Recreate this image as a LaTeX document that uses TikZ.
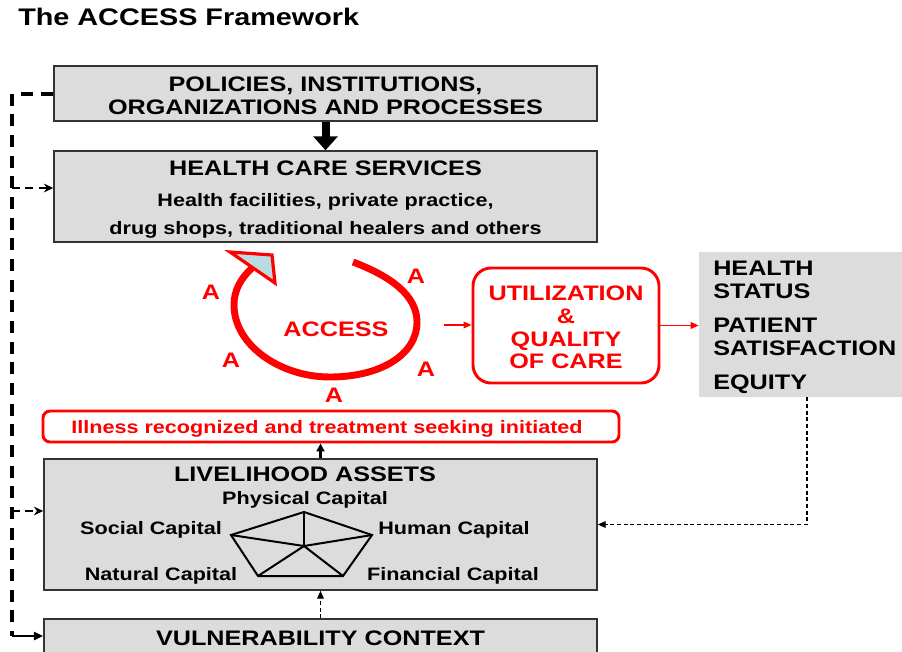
\documentclass[tikz,border=0pt]{standalone}
\usepackage{fontspec}
\setmainfont{Liberation Sans}[FakeStretch=1.2]
\usepackage{xcolor}
\usetikzlibrary{arrows.meta}
\definecolor{boxgray}{RGB}{220,220,220}
\definecolor{accred}{RGB}{255,0,0}
\definecolor{headcyan}{RGB}{184,220,226}
\newcommand{\bigfont}{\fontsize{15.75}{17}\selectfont\bfseries}
\newcommand{\medfont}{\fontsize{13.5}{16}\selectfont\bfseries}

\begin{document}
\begin{tikzpicture}[x=0.75pt, y=-0.75pt,
  graybox/.style={draw=black!80, line width=1.1pt, fill=boxgray, inner sep=0pt},
  redbox/.style={draw=accred, line width=2.2pt, inner sep=0pt},
  boxtext/.style={align=center, inner sep=0pt, yshift=-1.6pt},
  alabel/.style={text=accred, font=\bigfont, inner sep=1pt},
  caplabel/.style={font=\medfont, inner sep=1pt, yshift=-1.8pt},
  redarrow/.style={accred, line width=1.1pt, -{Triangle[length=6pt,width=5pt]}},
  spinedash/.style={line width=3pt, dash pattern=on 9pt off 6.5pt},
  branchdash/.style={line width=2pt, dash pattern=on 6pt off 4pt, -{Stealth[length=7pt,width=6.5pt]}},
  fbline/.style={line width=0.9pt, dash pattern=on 3pt off 2pt, -{Triangle[length=6pt,width=5pt]}}]

\useasboundingbox (0,0) rectangle (902,651);
\clip (0,0) rectangle (902,651);

% ── Titel ────────────────────────────────────────────────────────────
\node[anchor=west, font=\fontsize{18}{20}\selectfont\bfseries, inner sep=0pt]
  (title) at (18,17) {The ACCESS Framework};

% ── Kästen links ─────────────────────────────────────────────────────
\node[graybox, minimum width=407.25pt, minimum height=41.25pt] (pol) at (325.5,93.5) {};
\node[boxtext, font=\bigfont] (polt) at (pol) {POLICIES, INSTITUTIONS,\\ORGANIZATIONS AND PROCESSES};

\node[graybox, minimum width=407.25pt, minimum height=68.25pt] (hcs) at (325.5,196.5) {};
\node[boxtext, font=\medfont, yshift=-0.8pt] (hcst) at (hcs)
  {{\bigfont HEALTH CARE SERVICES}\\[7pt]
   Health facilities, private practice,\\[5.5pt]
   drug shops, traditional healers and others};

\node[redbox, rounded corners=5.25pt, minimum width=432pt, minimum height=23.25pt] (ill) at (331,426.5) {};
\node[boxtext, font=\medfont, text=accred, xshift=-3pt] (illt) at (ill)
  {Illness recognized and treatment seeking initiated};

\node[graybox, minimum width=414.75pt, minimum height=98.25pt] (liv) at (320.5,524.5) {};
\node[font=\bigfont, inner sep=0pt] (livt) at (305,474) {LIVELIHOOD ASSETS};

\node[graybox, minimum width=414.75pt, minimum height=25.5pt] (vul) at (320.5,636) {};
\node[boxtext, font=\bigfont] (vult) at (vul) {VULNERABILITY CONTEXT};

% ── Kästen rechts ────────────────────────────────────────────────────
\node[redbox, rounded corners=13.5pt, minimum width=139.5pt, minimum height=86.25pt] (utl) at (566,325.5) {};
\node[boxtext, font=\bigfont, text=accred] (utlt) at (utl) {UTILIZATION\\\&\\QUALITY\\OF CARE};

\node[fill=boxgray, minimum width=162pt, minimum height=108.75pt] (outb) at (807,324.5) {};
\node[anchor=west, align=left, font=\bigfont, inner sep=0pt, yshift=-2.2pt]
  (outt) at (713,324.5) {HEALTH\\STATUS\\[8.5pt]PATIENT\\SATISFACTION\\[8.5pt]EQUITY};

% ── Access-Kreis ─────────────────────────────────────────────────────
\draw[accred, line width=5.2pt]
  (353,262) .. controls (390,276) and (417,295) .. (417,322)
            .. controls (417,355) and (380,377) .. (330,377)
            .. controls (280,377) and (234,345) .. (234,305)
            .. controls (234,290) and (241,278) .. (252,268);
\filldraw[draw=accred, fill=headcyan, line width=2.4pt, line join=miter]
  (230,252) -- (272,255) -- (275,283) -- cycle;
\node[alabel] (acc) at (336,329) {ACCESS};
\foreach \x/\y [count=\i] in {211/292, 416/276, 231/360, 426/369, 334/395}
  \node[alabel] (a\i) at (\x,\y) {A};

% ── Kapital-Fünfeck ──────────────────────────────────────────────────
\coordinate (pc) at (304,546);
\coordinate (p1) at (304,512);
\coordinate (p2) at (372,535);
\coordinate (p3) at (343,576);
\coordinate (p4) at (258,576);
\coordinate (p5) at (231,535);
\draw[line width=1.5pt, line join=miter] (p1) -- (p2) -- (p3) -- (p4) -- (p5) -- cycle;
\foreach \p in {p1,p2,p3,p4,p5}
  \draw[line width=1.5pt] (pc) -- (\p);
\node[caplabel] (phys) at (305,497.5) {Physical Capital};
\node[caplabel] (soc)  at (151,527)   {Social Capital};
\node[caplabel] (hum)  at (454,527)   {Human Capital};
\node[caplabel] (nat)  at (161,573)   {Natural Capital};
\node[caplabel] (fin)  at (453,573)   {Financial Capital};

% ── Pfeile ───────────────────────────────────────────────────────────
\draw[line width=6pt, -{Triangle[length=10.5pt,width=18pt]}] (pol.south) -- (hcs.north);
\draw[line width=1.6pt, -{Triangle[length=6pt,width=6pt]}] (liv.north) -- (liv.north |- ill.south);
\draw[fbline] (vul.north) -- (liv.south);
\draw[fbline] (outb.south) |- (liv.east);
\coordinate (accout) at (444,325);
\draw[redarrow] (accout) -- (accout -| utl.west);
\draw[redarrow] (utl.east) -- (utl.east -| outb.west);

% ── Gestrichelte Rückführung links ───────────────────────────────────
\coordinate (spine) at (12,93.5);
\coordinate (b1) at (12,188);
\coordinate (b2) at (12,511);
\draw[spinedash] (pol.west) -- (spine) -- (spine |- vul.west);
\draw[line width=2pt, -{Triangle[length=7pt,width=6pt]}] (spine |- vul.west) -- (vul.west);
\draw[branchdash] (b1) -- (b1 -| hcs.west);
\draw[branchdash] (b2) -- (b2 -| liv.west);

\end{tikzpicture}
\end{document}
